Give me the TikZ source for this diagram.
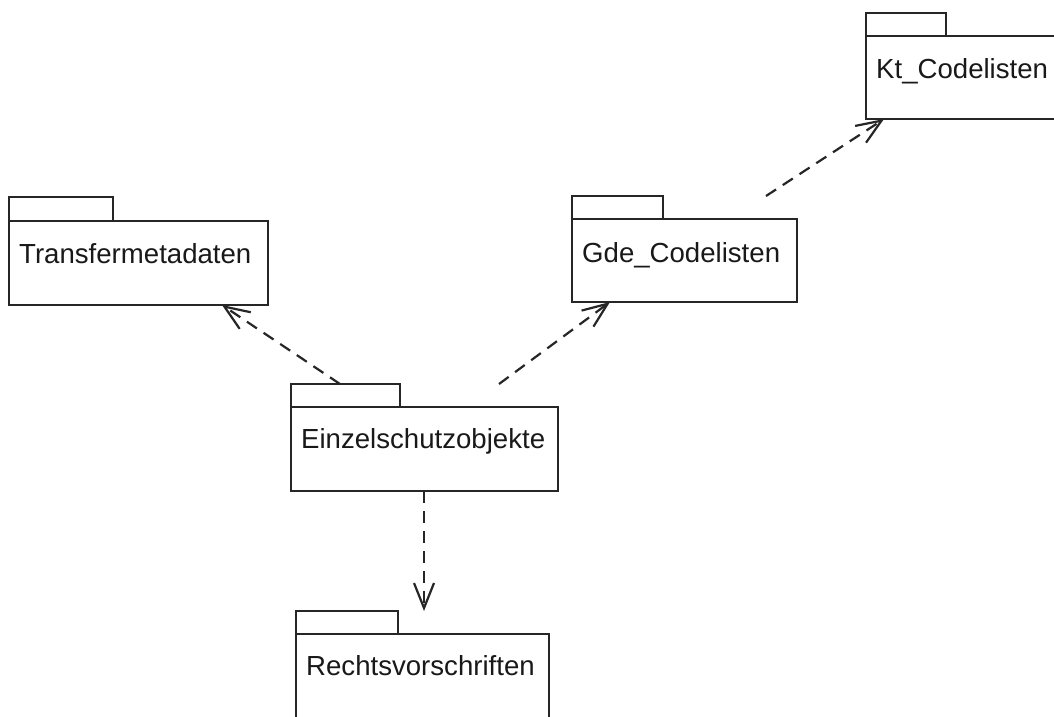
\documentclass[tikz,border=0pt]{standalone}
\usepackage{fontspec}
\setmainfont{Liberation Sans}
\usetikzlibrary{arrows.meta}
\begin{document}
\begin{tikzpicture}[x=1pt,y=-1pt,
  pkg/.style={draw=black!85, line width=2.2pt, inner sep=0pt, outer sep=0pt, anchor=north west, fill=white},
  pkglabel/.style={anchor=base west, inner sep=0pt, font=\fontsize{27.6}{33}\selectfont, text=black!90},
  dep/.style={draw=black!85, line width=2.2pt, dash pattern=on 12pt off 8pt,
    -{Straight Barb[length=25pt,width=20pt,line width=2.2pt]}}]
\useasboundingbox (0,0) rectangle (1054,716);
\clip (0,0) rectangle (1054,716);
% Transfermetadaten
\node[pkg, minimum width=104pt, minimum height=24pt] (transTab) at (9,197) {};
\node[pkg, minimum width=259pt, minimum height=84pt] (trans) at (9,221) {};
\node[pkglabel] (transL) at ([shift={(10pt,-42pt)}]trans.north west) {Transfermetadaten};
% Gde_Codelisten
\node[pkg, minimum width=91pt, minimum height=23pt] (gdeTab) at (572,196) {};
\node[pkg, minimum width=225pt, minimum height=83pt] (gde) at (572,219) {};
\node[pkglabel] (gdeL) at ([shift={(10pt,-43pt)}]gde.north west) {Gde\_Codelisten};
% Kt_Codelisten
\node[pkg, minimum width=80pt, minimum height=23pt] (ktTab) at (866,13) {};
\node[pkg, minimum width=220pt, minimum height=83pt] (kt) at (866,36) {};
\node[pkglabel] (ktL) at ([shift={(10pt,-42pt)}]kt.north west) {Kt\_Codelisten};
% Einzelschutzobjekte
\node[pkg, minimum width=109pt, minimum height=23pt] (einTab) at (291,384) {};
\node[pkg, minimum width=267pt, minimum height=84pt] (ein) at (291,407) {};
\node[pkglabel] (einL) at ([shift={(10pt,-41pt)}]ein.north west) {Einzelschutzobjekte};
% Rechtsvorschriften
\node[pkg, minimum width=102pt, minimum height=23pt] (reTab) at (296,611) {};
\node[pkg, minimum width=253pt, minimum height=110pt] (re) at (296,634) {};
\node[pkglabel] (reL) at ([shift={(10pt,-41pt)}]re.north west) {Rechtsvorschriften};
% dependencies
\draw[dep] ([xshift=49pt]einTab.north west) -- ([xshift=213pt]trans.south west);
\draw[dep] ([xshift=208pt]einTab.north west) -- ([xshift=38pt]gde.south west);
\draw[dep] ([xshift=194pt]gdeTab.north west) -- ([xshift=18pt]kt.south west);
\draw[dep] ([xshift=133pt]ein.south west) -- ([xshift=128pt]reTab.north west);
\end{tikzpicture}
\end{document}
